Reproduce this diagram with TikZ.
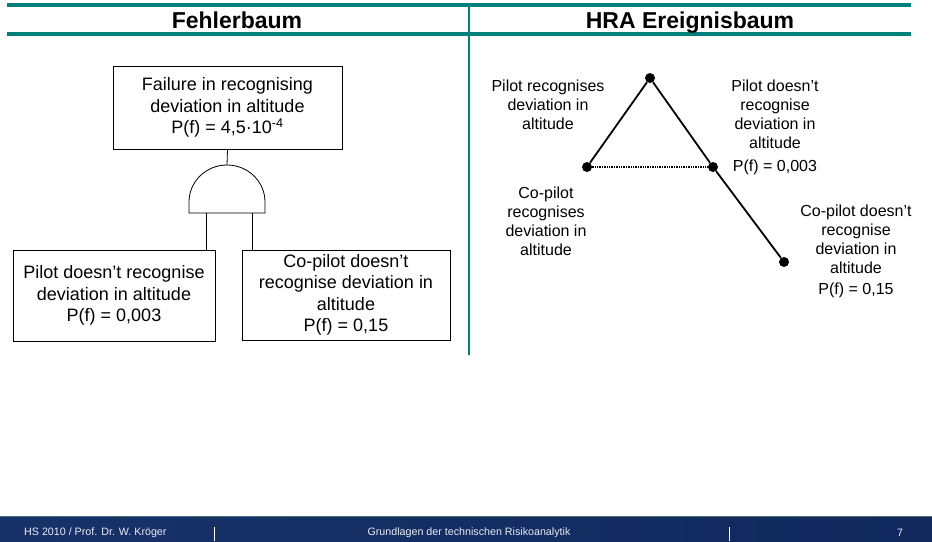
\documentclass[tikz,border=0pt]{standalone}
\usepackage{fontspec}
\setmainfont{Liberation Sans}
\definecolor{hdrteal}{RGB}{0,128,122}
\definecolor{footA}{RGB}{24,50,105}
\definecolor{footB}{RGB}{36,76,140}
\definecolor{footC}{RGB}{16,40,92}
\definecolor{footline}{RGB}{80,110,130}
\definecolor{foottext}{RGB}{232,236,244}
\begin{document}
\begin{tikzpicture}[x=1pt,y=-1pt,
  box/.style={draw=black, line width=0.8pt, align=center, inner sep=0pt, font=\fontsize{18}{21.5}\selectfont},
  lbl/.style={align=center, inner sep=0pt, font=\fontsize{16}{19}\selectfont},
  ttl/.style={anchor=base, inner sep=0pt, font=\fontsize{23}{27}\selectfont\bfseries},
  foot/.style={inner sep=0pt, text=foottext, font=\fontsize{10.7}{12}\selectfont},
  dot/.style={circle, fill=black, inner sep=0pt, minimum size=10pt},
  conn/.style={line width=0.8pt},
  branch/.style={line width=1.8pt},
  ]
\useasboundingbox (0,0) rectangle (932,541);

% header
\draw[hdrteal, line width=3.4pt] (7,5) -- (911,5);
\draw[hdrteal, line width=3.4pt] (7,34) -- (911,34);
\draw[hdrteal, line width=2pt] (469,5) -- (469,355);
\node[ttl] (t1) at (237,28) {Fehlerbaum};
\node[ttl] (t2) at (690,28) {HRA Ereignisbaum};

% fault tree
\node[box, minimum width=229pt, minimum height=83pt] (top) at (227.5,107.5)
  {Failure in recognising\\deviation in altitude\\P(f) = 4,5·10\textsuperscript{-4}};
\coordinate (gtop) at (227,165);
\coordinate (gL) at (206,213);
\coordinate (gR) at (252,213);
\draw[conn] (189,213) -- (189,202) arc[start angle=180, end angle=360, x radius=38, y radius=37] -- (265,213) -- cycle;
\node[box, minimum width=202pt, minimum height=91pt] (lbox) at (114,295.5)
  {Pilot doesn’t recognise\\deviation in altitude\\P(f) = 0,003};
\node[box, minimum width=208pt, minimum height=90pt] (rbox) at (346,295)
  {Co-pilot doesn’t\\recognise deviation in\\altitude\\P(f) = 0,15};
\draw[conn] (top.south) -- (gtop);
\draw[conn] (gL) -- (gL |- lbox.north);
\draw[conn] (gR) -- (gR |- rbox.north);

% event tree
\node[dot] (e0) at (650,78) {};
\node[dot] (e1) at (587,167) {};
\node[dot] (e2) at (713,167) {};
\node[dot] (e3) at (784,262) {};
\draw[branch] (e0) -- (e1);
\draw[branch] (e0) -- (e2);
\draw[branch] (e2) -- (e3);
\draw[line width=2.4pt, dash pattern=on 1.3pt off 1.1pt] (e1) -- (e2);
\node[lbl] (l1) at (548,105) {Pilot recognises\\deviation in\\altitude};
\node[lbl] (l2) at (775,114.5) {Pilot doesn’t\\recognise\\deviation in\\altitude};
\node[lbl] (l3) at (775,167) {P(f) = 0,003};
\node[lbl] (l4) at (546,221) {Co-pilot\\recognises\\deviation in\\altitude};
\node[lbl] (l5) at (856,239) {Co-pilot doesn’t\\recognise\\deviation in\\altitude};
\node[lbl] (l6) at (856,290) {P(f) = 0,15};

% footer
\shade[left color=footA, middle color=footB, right color=footC] (0,516) rectangle (932,541);
\draw[footline, line width=1pt] (0,516.5) -- (932,516.5);
\draw[white, line width=0.9pt] (214,527) -- (214,541);
\draw[white, line width=0.9pt] (729,527) -- (729,541);
\node[foot, anchor=west] (f1) at (24,533) {HS 2010 / Prof. Dr. W. Kröger};
\node[foot] (f2) at (469,533) {Grundlagen der technischen Risikoanalytik};
\node[foot] (f3) at (900,533) {7};
\end{tikzpicture}
\end{document}
